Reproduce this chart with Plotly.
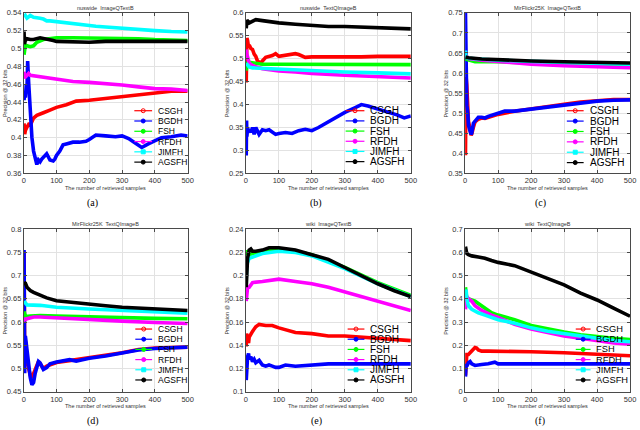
import plotly.graph_objects as go

W, H = 640, 430

METHODS = ["CSGH", "BGDH", "FSH", "RFDH", "JIMFH", "AGSFH"]
COLORS = ["#ff0000", "#0000ff", "#00ff00", "#ff00ff", "#00ffff", "#000000"]

TITLES = ["nuswide  ImageQTextB", "nuswide  TextQImageB", "MirFlickr25K  ImageQTextB",
          "MirFlickr25K  TextQImageB", "wiki  ImageQTextB", "wiki  TextQImageB"]
CAPTIONS = ["(a)", "(b)", "(c)", "(d)", "(e)", "(f)"]

X_TICKS = [0, 100, 200, 300, 400, 500]

# y ticks per panel
A_YTICKS = [0.36, 0.38, 0.40, 0.42, 0.44, 0.46, 0.48, 0.50, 0.52, 0.54]
A_YTEXT = ["0.36", "0.38", "0.4", "0.42", "0.44", "0.46", "0.48", "0.5", "0.52", "0.54"]
B_YTICKS = [0.25, 0.30, 0.35, 0.40, 0.45, 0.50, 0.55, 0.60]
B_YTEXT = ["0.25", "0.3", "0.35", "0.4", "0.45", "0.5", "0.55", "0.6"]
C_YTICKS = [0.35, 0.40, 0.45, 0.50, 0.55, 0.60, 0.65, 0.70, 0.75]
C_YTEXT = ["0.35", "0.4", "0.45", "0.5", "0.55", "0.6", "0.65", "0.7", "0.75"]
D_YTICKS = [0.45, 0.50, 0.55, 0.60, 0.65, 0.70, 0.75, 0.80]
D_YTEXT = ["0.45", "0.5", "0.55", "0.6", "0.65", "0.7", "0.75", "0.8"]
E_YTICKS = [0.10, 0.12, 0.14, 0.16, 0.18, 0.20, 0.22, 0.24]
E_YTEXT = ["0.1", "0.12", "0.14", "0.16", "0.18", "0.2", "0.22", "0.24"]
F_YTICKS = [0.0, 0.1, 0.2, 0.3, 0.4, 0.5, 0.6, 0.7]
F_YTEXT = ["0", "0.1", "0.2", "0.3", "0.4", "0.5", "0.6", "0.7"]

# ---------------------------------------------------------
# (a) nuswide ImageQTextB
# ---------------------------------------------------------
A_CSGH_X = [1, 3, 5, 10, 15, 20, 25, 30, 40, 50, 60, 80, 100, 130, 160, 200, 250, 300, 350, 400, 450, 500]
A_CSGH_Y = [0.416, 0.404, 0.408, 0.412, 0.415, 0.414, 0.418, 0.422, 0.425, 0.427, 0.428, 0.431, 0.434,
            0.437, 0.441, 0.442, 0.444, 0.446, 0.448, 0.450, 0.452, 0.452]
A_BGDH_X = [1, 3, 5, 8, 10, 12, 15, 18, 20, 25, 30, 35, 40, 45, 50, 55, 60, 70, 80, 90, 95, 100, 110, 120,
            130, 150, 170, 190, 200, 220, 250, 280, 300, 320, 340, 360, 380, 400, 420, 450, 480, 500]
A_BGDH_Y = [0.442, 0.452, 0.445, 0.460, 0.456, 0.486, 0.462, 0.440, 0.420, 0.400, 0.385, 0.376, 0.370,
            0.375, 0.373, 0.376, 0.378, 0.382, 0.375, 0.374, 0.376, 0.380, 0.385, 0.392, 0.393, 0.395,
            0.395, 0.396, 0.398, 0.403, 0.402, 0.401, 0.402, 0.399, 0.394, 0.389, 0.393, 0.397, 0.400,
            0.401, 0.403, 0.402]
A_FSH_X = [1, 3, 5, 10, 20, 30, 40, 60, 80, 100, 150, 200, 250, 300, 350, 400, 450, 500]
A_FSH_Y = [0.493, 0.500, 0.504, 0.503, 0.502, 0.503, 0.507, 0.510, 0.511, 0.512, 0.512, 0.512, 0.512,
           0.512, 0.511, 0.510, 0.509, 0.509]
A_RFDH_X = [1, 2, 5, 10, 15, 20, 40, 60, 80, 100, 150, 200, 250, 300, 350, 400, 450, 500]
A_RFDH_Y = [0.474, 0.467, 0.468, 0.470, 0.472, 0.470, 0.469, 0.468, 0.466, 0.465, 0.463, 0.462, 0.461,
            0.459, 0.457, 0.455, 0.4545, 0.453]
A_JIMFH_X = [1, 5, 10, 15, 20, 30, 40, 50, 60, 70, 80, 100, 120, 140, 160, 180, 200, 220, 250, 300,
             350, 400, 450, 500]
A_JIMFH_Y = [0.535, 0.537, 0.534, 0.536, 0.537, 0.535, 0.535, 0.534, 0.533, 0.531, 0.531, 0.530, 0.530,
             0.529, 0.528, 0.527, 0.526, 0.525, 0.524, 0.523, 0.521, 0.520, 0.519, 0.5185]
A_AGSFH_X = [1, 2, 5, 10, 20, 30, 50, 70, 90, 100, 150, 200, 250, 300, 350, 400, 450, 500]
A_AGSFH_Y = [0.519, 0.505, 0.509, 0.511, 0.510, 0.510, 0.512, 0.511, 0.509, 0.508, 0.507, 0.507, 0.508,
             0.508, 0.508, 0.508, 0.508, 0.508]

# ---------------------------------------------------------
# (b) nuswide TextQImageB
# ---------------------------------------------------------
B_CSGH_X = [1, 3, 5, 8, 10, 15, 20, 25, 30, 35, 40, 45, 50, 60, 80, 90, 100, 120, 150, 160, 180, 200,
            250, 300, 350, 400, 450, 500]
B_CSGH_Y = [0.448, 0.545, 0.540, 0.525, 0.530, 0.522, 0.520, 0.510, 0.505, 0.495, 0.492, 0.490, 0.495,
            0.503, 0.507, 0.511, 0.505, 0.508, 0.511, 0.509, 0.503, 0.504, 0.504, 0.503, 0.504, 0.505,
            0.505, 0.505]
B_BGDH_X = [1, 2, 3, 5, 8, 10, 15, 20, 25, 30, 35, 40, 50, 60, 70, 80, 90, 100, 120, 140, 160, 180, 200,
            220, 250, 280, 300, 330, 350, 370, 400, 430, 460, 480, 500]
B_BGDH_Y = [0.289, 0.365, 0.330, 0.350, 0.340, 0.345, 0.340, 0.350, 0.335, 0.350, 0.340, 0.335, 0.345,
            0.343, 0.345, 0.340, 0.335, 0.337, 0.339, 0.337, 0.343, 0.346, 0.343, 0.350, 0.363, 0.375,
            0.383, 0.393, 0.400, 0.397, 0.391, 0.384, 0.377, 0.371, 0.375]
B_FSH_X = [1, 3, 10, 30, 50, 100, 200, 300, 400, 500]
B_FSH_Y = [0.474, 0.490, 0.492, 0.490, 0.488, 0.488, 0.488, 0.488, 0.488, 0.487]
B_RFDH_X = [1, 3, 10, 20, 50, 100, 150, 200, 300, 400, 500]
B_RFDH_Y = [0.520, 0.510, 0.490, 0.485, 0.478, 0.473, 0.471, 0.468, 0.464, 0.461, 0.458]
B_JIMFH_X = [1, 10, 20, 50, 100, 200, 300, 400, 500]
B_JIMFH_Y = [0.490, 0.482, 0.480, 0.479, 0.477, 0.474, 0.471, 0.469, 0.467]
B_AGSFH_X = [1, 3, 10, 20, 30, 50, 100, 150, 200, 250, 300, 350, 400, 450, 500]
B_AGSFH_Y = [0.566, 0.584, 0.578, 0.582, 0.585, 0.583, 0.578, 0.575, 0.572, 0.570, 0.570, 0.569, 0.568,
             0.566, 0.565]

# ---------------------------------------------------------
# (c) MirFlickr25K ImageQTextB
# ---------------------------------------------------------
C_CSGH_X = [1, 2, 3, 5, 8, 10, 15, 18, 20, 25, 30, 40, 50, 60, 80, 100, 150, 200, 250, 300, 350, 400, 450, 500]
C_CSGH_Y = [0.395, 0.540, 0.590, 0.570, 0.520, 0.480, 0.460, 0.445, 0.448, 0.465, 0.478, 0.485, 0.488,
            0.487, 0.493, 0.497, 0.505, 0.510, 0.515, 0.522, 0.528, 0.531, 0.534, 0.534]
C_BGDH_X = [1, 2, 3, 5, 8, 10, 15, 18, 20, 25, 30, 40, 50, 60, 70, 80, 100, 120, 150, 200, 250, 300,
            350, 400, 450, 500]
C_BGDH_Y = [0.750, 0.620, 0.540, 0.520, 0.500, 0.470, 0.455, 0.448, 0.450, 0.475, 0.480, 0.490, 0.490,
            0.488, 0.492, 0.495, 0.500, 0.505, 0.505, 0.510, 0.515, 0.522, 0.527, 0.530, 0.532, 0.533]
C_FSH_X = [1, 10, 30, 50, 100, 200, 300, 400, 500]
C_FSH_Y = [0.635, 0.633, 0.628, 0.628, 0.628, 0.625, 0.622, 0.620, 0.619]
C_RFDH_X = [1, 5, 10, 50, 100, 200, 300, 400, 500]
C_RFDH_Y = [0.645, 0.640, 0.636, 0.632, 0.628, 0.622, 0.618, 0.615, 0.613]
C_JIMFH_X = [1, 2, 10, 50, 100, 200, 300, 400, 500]
C_JIMFH_Y = [0.656, 0.640, 0.637, 0.634, 0.632, 0.629, 0.626, 0.624, 0.622]
C_AGSFH_X = [1, 10, 50, 100, 200, 300, 400, 500]
C_AGSFH_Y = [0.640, 0.638, 0.635, 0.633, 0.630, 0.628, 0.626, 0.625]

# ---------------------------------------------------------
# (d) MirFlickr25K TextQImageB
# ---------------------------------------------------------
D_CSGH_X = [1, 2, 3, 5, 8, 10, 15, 20, 25, 30, 35, 40, 45, 50, 60, 70, 100, 150, 200, 250, 300, 350, 400, 500]
D_CSGH_Y = [0.752, 0.600, 0.505, 0.560, 0.540, 0.520, 0.500, 0.485, 0.480, 0.490, 0.495, 0.505, 0.515,
            0.510, 0.500, 0.505, 0.513, 0.518, 0.523, 0.528, 0.534, 0.541, 0.544, 0.546]
D_BGDH_X = [1, 2, 3, 5, 8, 10, 15, 20, 25, 30, 35, 40, 45, 50, 55, 60, 70, 80, 100, 120, 140, 160, 200,
            250, 300, 350, 400, 450, 500]
D_BGDH_Y = [0.755, 0.600, 0.490, 0.570, 0.550, 0.530, 0.500, 0.480, 0.465, 0.470, 0.490, 0.505, 0.515,
            0.512, 0.503, 0.498, 0.502, 0.510, 0.514, 0.516, 0.519, 0.516, 0.522, 0.527, 0.534, 0.540,
            0.543, 0.545, 0.546]
D_FSH_X = [1, 5, 20, 50, 100, 200, 300, 400, 500]
D_FSH_Y = [0.623, 0.612, 0.613, 0.614, 0.613, 0.611, 0.609, 0.608, 0.607]
D_RFDH_X = [1, 3, 10, 30, 50, 100, 200, 300, 400, 500]
D_RFDH_Y = [0.610, 0.605, 0.607, 0.611, 0.611, 0.609, 0.605, 0.602, 0.599, 0.597]
D_JIMFH_X = [1, 5, 10, 50, 100, 200, 300, 400, 500]
D_JIMFH_Y = [0.645, 0.640, 0.637, 0.636, 0.632, 0.628, 0.625, 0.622, 0.619]
D_AGSFH_X = [1, 5, 10, 20, 30, 50, 70, 100, 150, 200, 250, 300, 350, 400, 450, 500]
D_AGSFH_Y = [0.686, 0.684, 0.675, 0.668, 0.664, 0.657, 0.652, 0.646, 0.642, 0.638, 0.635, 0.632, 0.630,
             0.629, 0.627, 0.625]

# ---------------------------------------------------------
# (e) wiki ImageQTextB
# ---------------------------------------------------------
E_CSGH_X = [1, 2, 5, 8, 10, 15, 20, 30, 40, 60, 80, 100, 150, 200, 250, 300, 350, 400, 450, 500]
E_CSGH_Y = [0.139, 0.150, 0.145, 0.142, 0.147, 0.150, 0.152, 0.156, 0.158, 0.157, 0.157, 0.155, 0.151,
            0.150, 0.148, 0.148, 0.147, 0.146, 0.145, 0.144]
E_BGDH_X = [1, 2, 3, 5, 8, 10, 15, 20, 25, 30, 40, 50, 60, 70, 80, 90, 100, 120, 150, 200, 250, 300, 400, 500]
E_BGDH_Y = [0.110, 0.120, 0.127, 0.130, 0.133, 0.128, 0.130, 0.126, 0.128, 0.125, 0.127, 0.123, 0.122,
            0.123, 0.122, 0.121, 0.121, 0.123, 0.122, 0.123, 0.124, 0.124, 0.124, 0.124]
E_FSH_X = [1, 3, 10, 20, 50, 100, 150, 200, 300, 400, 500]
E_FSH_Y = [0.222, 0.219, 0.218, 0.219, 0.221, 0.222, 0.221, 0.218, 0.207, 0.194, 0.183]
E_RFDH_X = [1, 3, 5, 10, 20, 50, 100, 150, 200, 250, 300, 350, 400, 450, 500]
E_RFDH_Y = [0.178, 0.185, 0.190, 0.190, 0.194, 0.195, 0.197, 0.195, 0.193, 0.190, 0.186, 0.182, 0.178,
            0.174, 0.170]
E_JIMFH_X = [1, 3, 10, 20, 50, 100, 150, 200, 300, 400, 500]
E_JIMFH_Y = [0.198, 0.210, 0.215, 0.216, 0.219, 0.221, 0.220, 0.217, 0.206, 0.193, 0.182]
E_AGSFH_X = [1, 3, 5, 10, 15, 20, 30, 50, 70, 100, 150, 200, 250, 300, 350, 400, 450, 500]
E_AGSFH_Y = [0.190, 0.205, 0.215, 0.222, 0.223, 0.221, 0.221, 0.222, 0.224, 0.224, 0.222, 0.218, 0.214,
             0.207, 0.200, 0.193, 0.187, 0.182]

# ---------------------------------------------------------
# (f) wiki TextQImageB
# ---------------------------------------------------------
F_CSGH_X = [1, 2, 3, 5, 10, 15, 20, 30, 35, 40, 50, 70, 100, 150, 200, 300, 400, 500]
F_CSGH_Y = [0.070, 0.120, 0.150, 0.160, 0.160, 0.170, 0.175, 0.190, 0.188, 0.180, 0.175, 0.175, 0.175,
            0.175, 0.172, 0.168, 0.160, 0.155]
F_BGDH_X = [1, 2, 3, 5, 10, 15, 20, 30, 50, 70, 90, 100, 150, 200, 300, 400, 500]
F_BGDH_Y = [0.065, 0.100, 0.120, 0.110, 0.125, 0.130, 0.120, 0.113, 0.117, 0.120, 0.127, 0.120, 0.120,
            0.120, 0.120, 0.120, 0.120]
F_FSH_X = [1, 3, 5, 10, 20, 30, 40, 60, 80, 100, 150, 200, 250, 300, 350, 400, 450, 500]
F_FSH_Y = [0.450, 0.420, 0.400, 0.400, 0.395, 0.390, 0.380, 0.360, 0.340, 0.330, 0.310, 0.285, 0.270,
           0.257, 0.245, 0.237, 0.230, 0.225]
F_RFDH_X = [1, 3, 5, 10, 20, 30, 50, 80, 100, 150, 200, 250, 300, 350, 400, 450, 500]
F_RFDH_Y = [0.355, 0.390, 0.410, 0.400, 0.390, 0.370, 0.350, 0.330, 0.320, 0.290, 0.270, 0.255, 0.240,
            0.230, 0.220, 0.210, 0.205]
F_JIMFH_X = [1, 3, 5, 10, 20, 40, 60, 80, 100, 150, 200, 250, 300, 350, 400, 450, 500]
F_JIMFH_Y = [0.430, 0.440, 0.400, 0.370, 0.355, 0.340, 0.330, 0.320, 0.310, 0.295, 0.275, 0.260, 0.250,
             0.240, 0.230, 0.220, 0.215]
F_AGSFH_X = [1, 3, 5, 10, 20, 40, 60, 80, 100, 150, 200, 250, 300, 350, 400, 450, 500]
F_AGSFH_Y = [0.625, 0.600, 0.595, 0.590, 0.585, 0.580, 0.575, 0.565, 0.557, 0.543, 0.515, 0.490, 0.460,
             0.425, 0.395, 0.360, 0.325]

PANELS = [
    ([(A_CSGH_X, A_CSGH_Y), (A_BGDH_X, A_BGDH_Y), (A_FSH_X, A_FSH_Y), (A_RFDH_X, A_RFDH_Y),
      (A_JIMFH_X, A_JIMFH_Y), (A_AGSFH_X, A_AGSFH_Y)], A_YTICKS, A_YTEXT),
    ([(B_CSGH_X, B_CSGH_Y), (B_BGDH_X, B_BGDH_Y), (B_FSH_X, B_FSH_Y), (B_RFDH_X, B_RFDH_Y),
      (B_JIMFH_X, B_JIMFH_Y), (B_AGSFH_X, B_AGSFH_Y)], B_YTICKS, B_YTEXT),
    ([(C_CSGH_X, C_CSGH_Y), (C_BGDH_X, C_BGDH_Y), (C_FSH_X, C_FSH_Y), (C_RFDH_X, C_RFDH_Y),
      (C_JIMFH_X, C_JIMFH_Y), (C_AGSFH_X, C_AGSFH_Y)], C_YTICKS, C_YTEXT),
    ([(D_CSGH_X, D_CSGH_Y), (D_BGDH_X, D_BGDH_Y), (D_FSH_X, D_FSH_Y), (D_RFDH_X, D_RFDH_Y),
      (D_JIMFH_X, D_JIMFH_Y), (D_AGSFH_X, D_AGSFH_Y)], D_YTICKS, D_YTEXT),
    ([(E_CSGH_X, E_CSGH_Y), (E_BGDH_X, E_BGDH_Y), (E_FSH_X, E_FSH_Y), (E_RFDH_X, E_RFDH_Y),
      (E_JIMFH_X, E_JIMFH_Y), (E_AGSFH_X, E_AGSFH_Y)], E_YTICKS, E_YTEXT),
    ([(F_CSGH_X, F_CSGH_Y), (F_BGDH_X, F_BGDH_Y), (F_FSH_X, F_FSH_Y), (F_RFDH_X, F_RFDH_Y),
      (F_JIMFH_X, F_JIMFH_Y), (F_AGSFH_X, F_AGSFH_Y)], F_YTICKS, F_YTEXT),
]

# ---------------------------------------------------------
# Layout geometry (pixels)
# ---------------------------------------------------------
COLS = [(22, 188), (247, 414), (469, 636)]
ROWS = [(9, 173), (230, 396)]
CAPTION_X = [92, 318, 545]
# legend: line start, line end, text start, first row y, row step, font size
LEGENDS = [
    (134, 152, 156, 109, 10.5, 8.5),
    (348, 367, 371, 109, 10.4, 10),
    (572, 589, 593, 109, 10.6, 10),
    (135, 152, 156, 332, 10.4, 8.5),
    (350, 367, 371, 332, 10.4, 10),
    (581, 596, 599, 332, 10.4, 9.3),
]
MARKERS = ["circle-open", "circle", "circle", "circle", "square", "circle"]


def px(x):
    return x / W


def py(y):
    return 1 - y / H


def note(text, x, y, size, **kw):
    d = dict(text=text, x=px(x), y=py(y), xref="paper", yref="paper", showarrow=False,
             xanchor="center", yanchor="middle", font=dict(size=size, color="#333333"))
    d.update(kw)
    return d


fig = go.Figure()
shapes = []
annotations = []

for p, (series, yticks, ytext) in enumerate(PANELS):
    r, c = divmod(p, 3)
    sfx = "" if p == 0 else str(p + 1)
    left, right = COLS[c]
    top, bottom = ROWS[r]

    for i, (xs, ys) in enumerate(series):
        fig.add_trace(go.Scatter(x=xs, y=ys, mode="lines", name=METHODS[i], showlegend=False,
                                 line=dict(color=COLORS[i], width=3.6),
                                 xaxis="x" + sfx, yaxis="y" + sfx))

    axis_common = dict(showgrid=True, gridcolor="#e2e2e2", gridwidth=1, zeroline=False,
                       showline=True, linecolor="#4a4a4a", linewidth=0.8, mirror="ticks",
                       ticks="inside", ticklen=3, tickcolor="#4a4a4a",
                       tickfont=dict(size=7.5, color="#333333"))
    fig.layout["xaxis" + sfx] = dict(domain=[px(left), px(right)], range=[0, 500],
                                     tickvals=X_TICKS, anchor="y" + sfx, **axis_common)
    fig.layout["yaxis" + sfx] = dict(domain=[py(bottom), py(top)], range=[yticks[0], yticks[-1]],
                                     tickvals=yticks, ticktext=ytext, anchor="x" + sfx, **axis_common)

    cx = (left + right) / 2
    annotations.append(note(TITLES[p], cx, top - 5, 5.5))
    annotations.append(note("The number of retrieved samples", cx, bottom + 15, 5.5))
    annotations.append(note("Precision @ 32 bits", left - 19, (top + bottom) / 2, 5.5, textangle=-90))
    annotations.append(note(CAPTIONS[p], CAPTION_X[c], bottom + 30, 10,
                            font=dict(size=10, color="#000000", family="Liberation Serif")))

    # hand-drawn compact legend (MATLAB style, no box)
    l0, l1, tx, ty, dy, fs = LEGENDS[p]
    for i, name in enumerate(METHODS):
        yy = ty + i * dy
        shapes.append(dict(type="line", xref="paper", yref="paper", x0=px(l0), x1=px(l1),
                           y0=py(yy), y1=py(yy), line=dict(color=COLORS[i], width=1.2)))
        mx = (l0 + l1) / 2
        kind = "rect" if MARKERS[i] == "square" else "circle"
        fill = "rgba(0,0,0,0)" if MARKERS[i] == "circle-open" else COLORS[i]
        shapes.append(dict(type=kind, xref="paper", yref="paper", xsizemode="pixel", ysizemode="pixel",
                           xanchor=px(mx), yanchor=py(yy), x0=-2, x1=2, y0=-2, y1=2,
                           fillcolor=fill, line=dict(color=COLORS[i], width=1)))
        annotations.append(note(name, tx, yy, fs, xanchor="left",
                                font=dict(size=fs, color="#000000")))

fig.update_layout(
    width=W, height=H,
    margin=dict(l=0, r=0, t=0, b=0),
    paper_bgcolor="white", plot_bgcolor="white",
    font=dict(family="Liberation Sans, Arial", size=8),
    shapes=shapes, annotations=annotations,
    showlegend=False,
)

# drop the browser's default body margin so the 640x430 figure sits at the window origin
fig.write_html("out.html", config={"displayModeBar": False},
               post_script="document.body.style.margin='0';document.body.style.overflow='hidden';")
